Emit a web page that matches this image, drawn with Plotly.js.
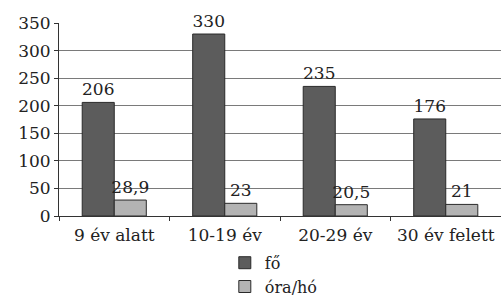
<!DOCTYPE html>
<html><head><meta charset="utf-8">
<script src="https://cdn.plot.ly/plotly-3.0.1.min.js"></script>
<style>html,body{margin:0;padding:0;background:#fff;}#chart{width:501px;height:305px;}</style>
</head><body><div id="chart"></div>
<script>
var categories = ["9 év alatt", "10-19 év", "20-29 év", "30 év felett"];
var foValues = [206, 330, 235, 176];
var oraValues = [28.9, 23, 20.5, 21];
var seriesNames = ["fő", "óra/hó"];
var yTicks = [0, 50, 100, 150, 200, 250, 300, 350];

function lbl(v){ return String(v).replace('.', ','); }
var F = "DejaVu Serif, serif";
var traces = [
  {type:'bar', name:seriesNames[0], x:categories, y:foValues,
   text:foValues.map(lbl), textposition:'outside', cliponaxis:false, constraintext:'none',
   textfont:{family:F, size:17, color:'#222'},
   marker:{color:'#5c5c5c', line:{color:'#2a2a2a', width:1}}},
  {type:'bar', name:seriesNames[1], x:categories, y:oraValues,
   text:oraValues.map(lbl), textposition:'outside', cliponaxis:false, constraintext:'none',
   textfont:{family:F, size:17, color:'#222'},
   marker:{color:'#b3b3b3', line:{color:'#2a2a2a', width:1}}}
];
var layout = {
  width:501, height:305,
  margin:{l:59, r:0, t:23, b:89},
  paper_bgcolor:'#fff', plot_bgcolor:'#fff',
  font:{family:F, size:17, color:'#222'},
  barmode:'group', bargap:0.42, bargroupgap:0,
  showlegend:true,
  legend:{orientation:'v', x:0.486, xanchor:'center', y:-0.455, yanchor:'bottom',
          font:{family:F, size:16, color:'#222'}, itemwidth:30, tracegroupgap:0,
          traceorder:'normal', borderwidth:0},
  xaxis:{type:'category', showline:true, linecolor:'#333', linewidth:1,
         ticks:'outside', tickson:'boundaries', ticklen:4, tickcolor:'#333',
         ticklabelstandoff:4,
         showgrid:false, tickfont:{family:F, size:17, color:'#222'}},
  yaxis:{range:[0,350], tickvals:yTicks, showline:true, linecolor:'#333', linewidth:1,
         ticks:'outside', ticklen:4, tickcolor:'#333',
         showgrid:true, gridcolor:'#7a7a7a', gridwidth:1, zeroline:false,
         tickfont:{family:F, size:17, color:'#222'}}
};
Plotly.newPlot('chart', traces, layout, {displayModeBar:false, staticPlot:true});
</script></body></html>
